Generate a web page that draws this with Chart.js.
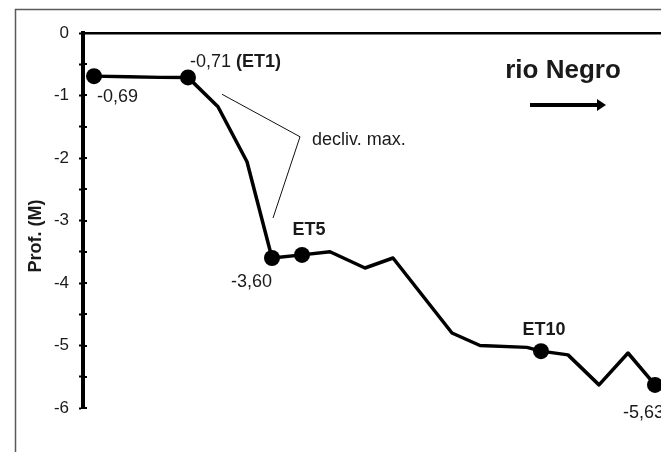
<!DOCTYPE html>
<html>
<head>
<meta charset="utf-8">
<script src="https://cdn.jsdelivr.net/npm/chart.js@4/dist/chart.umd.min.js"></script>
<style>
  html, body { margin: 0; padding: 0; background: #fff; overflow: hidden; }
  #wrap { width: 700px; height: 480px; }
</style>
</head>
<body>
<div id="wrap"><canvas id="perfil" width="700" height="480"></canvas></div>
<script>
// Longitudinal bed profile along the river (distance in km, depth in m)
const distKm = [1.1, 4.5, 7.7, 10.5, 13.5, 16.4, 18.9, 21.9, 24.7, 28.2, 31.0, 36.9, 39.7, 44.4, 45.8, 48.5, 51.6, 54.5, 57.2];
const depthM = [-0.69, -0.70, -0.71, -0.71, -1.18, -2.06, -3.60, -3.55, -3.50, -3.76, -3.60, -4.80, -5.00, -5.03, -5.09, -5.15, -5.63, -5.12, -5.63];

// indices of the surveyed stations (drawn with a marker)
const stationIdx = [0, 3, 6, 7, 14, 18];
// station names shown next to their markers
const stationNames = { 3: 'ET1', 7: 'ET5', 14: 'ET10' };
// stations whose depth is written on the chart
const depthLabelIdx = [0, 3, 6, 18];

// axis range and ticks
const depthMin = -6, depthMax = 0, depthStep = 0.5;
const distMin = 0, distMax = 60;

// "steepest slope" callout, river name and flow arrow (data coordinates)
const slopeCallout = [[13.9, -0.98], [21.7, -1.66], [19.0, -2.96]];
const slopeText = 'decliv. max.';
const riverName = 'rio Negro';
const flowArrow = [[44.7, -1.15], [52.3, -1.15]];

const FONT = '"Liberation Sans", Arial, Helvetica, sans-serif';
const fmt = v => v.toFixed(2).replace('.', ',');

const points = distKm.map((d, i) => ({ x: d, y: depthM[i] }));

const decorPlugin = {
  id: 'decor',
  beforeDraw(chart) {
    const ctx = chart.ctx;
    ctx.save();
    ctx.strokeStyle = '#5a5a5a';
    ctx.lineWidth = 1.5;
    ctx.strokeRect(15.5, 9.5, 900, 700);
    ctx.restore();
  },
  afterDraw(chart) {
    const ctx = chart.ctx;
    const xs = chart.scales.x, ys = chart.scales.y;
    const px = v => xs.getPixelForValue(v);
    const py = v => ys.getPixelForValue(v);
    ctx.save();

    // inner half of the depth ticks
    ctx.strokeStyle = '#000';
    ctx.lineWidth = 2;
    const ax = chart.chartArea.left;
    ys.ticks.forEach(t => {
      const y = Math.round(py(t.value));
      ctx.beginPath();
      ctx.moveTo(ax, y);
      ctx.lineTo(ax + 4, y);
      ctx.stroke();
    });

    // axis title
    ctx.fillStyle = '#1a1a1a';
    ctx.font = 'bold 18px ' + FONT;
    ctx.translate(36, 236);
    ctx.rotate(-Math.PI / 2);
    ctx.textAlign = 'center';
    ctx.textBaseline = 'middle';
    ctx.fillText('Prof. (M)', 0, 0);
    ctx.setTransform(1, 0, 0, 1, 0, 0);

    // slope callout
    ctx.strokeStyle = '#111';
    ctx.lineWidth = 1;
    ctx.beginPath();
    slopeCallout.forEach(([x, y], i) => {
      if (i === 0) ctx.moveTo(px(x), py(y)); else ctx.lineTo(px(x), py(y));
    });
    ctx.stroke();
    ctx.font = '18px ' + FONT;
    ctx.textAlign = 'left';
    ctx.textBaseline = 'middle';
    ctx.fillText(slopeText, px(slopeCallout[1][0]) + 12, py(slopeCallout[1][1]) + 3);

    // station labels
    const lab = (i) => ({ x: px(distKm[i]), y: py(depthM[i]) });
    depthLabelIdx.forEach(i => {
      const p = lab(i);
      const txt = fmt(depthM[i]);
      ctx.font = '18px ' + FONT;
      if (i === 0) {
        ctx.textAlign = 'left';
        ctx.fillText(txt, p.x + 3, p.y + 21);
      } else if (stationNames[i]) {
        ctx.textAlign = 'left';
        const first = txt + ' ';
        ctx.fillText(first, p.x + 2, p.y - 15);
        const w = ctx.measureText(first).width;
        ctx.font = 'bold 18px ' + FONT;
        ctx.fillText('(' + stationNames[i] + ')', p.x + 2 + w, p.y - 15);
      } else if (i === 6) {
        ctx.textAlign = 'right';
        ctx.fillText(txt, p.x, p.y + 24);
      } else {
        ctx.textAlign = 'left';
        ctx.fillText(txt, p.x - 32, p.y + 28);
      }
    });
    ctx.font = 'bold 18px ' + FONT;
    ctx.textAlign = 'center';
    Object.keys(stationNames).map(Number).forEach(i => {
      if (depthLabelIdx.includes(i)) return;
      const p = lab(i);
      const dx = i === 7 ? 7 : 3;
      const dy = i === 7 ? -25 : -21;
      ctx.fillText(stationNames[i], p.x + dx, p.y + dy);
    });

    // river name and flow direction
    const [a, b] = flowArrow;
    ctx.font = 'bold 26px ' + FONT;
    ctx.textAlign = 'center';
    ctx.fillText(riverName, (px(a[0]) + px(b[0])) / 2 - 5, py(a[1]) - 34);
    const x1 = px(a[0]), x2 = px(b[0]), y = Math.round(py(a[1]));
    ctx.strokeStyle = '#000';
    ctx.lineWidth = 4;
    ctx.beginPath();
    ctx.moveTo(x1, y);
    ctx.lineTo(x2 - 7, y);
    ctx.stroke();
    ctx.fillStyle = '#000';
    ctx.beginPath();
    ctx.moveTo(x2, y);
    ctx.lineTo(x2 - 9, y - 6);
    ctx.lineTo(x2 - 9, y + 6);
    ctx.closePath();
    ctx.fill();

    ctx.restore();
  }
};

new Chart(document.getElementById('perfil'), {
  type: 'line',
  data: {
    datasets: [{
      data: points,
      borderColor: '#000',
      borderWidth: 3.5,
      borderJoinStyle: 'round',
      tension: 0,
      fill: false,
      pointRadius: ctx => stationIdx.includes(ctx.dataIndex) ? 8 : 0,
      pointHoverRadius: ctx => stationIdx.includes(ctx.dataIndex) ? 8 : 0,
      pointBackgroundColor: '#000',
      pointBorderColor: '#000',
      pointBorderWidth: 0
    }]
  },
  options: {
    responsive: false,
    animation: false,
    events: [],
    layout: { padding: { left: 0, top: 33, right: 17, bottom: 72 } },
    plugins: { legend: { display: false }, tooltip: { enabled: false } },
    scales: {
      x: {
        type: 'linear',
        position: 'top',
        min: distMin,
        max: distMax,
        ticks: { display: false },
        grid: { drawOnChartArea: false, drawTicks: false },
        border: { display: true, color: '#000', width: 2.5 },
        afterFit: s => { s.height = 0; }
      },
      y: {
        type: 'linear',
        min: depthMin,
        max: depthMax,
        ticks: {
          stepSize: depthStep,
          padding: 10,
          color: '#1a1a1a',
          font: { family: FONT, size: 17 },
          callback: v => Number.isInteger(v) ? String(v) : ''
        },
        grid: { drawOnChartArea: false, drawTicks: true, tickLength: 4, tickWidth: 2, tickColor: '#000' },
        border: { display: true, color: '#000', width: 4 },
        afterFit: s => { s.width = 83; }
      }
    }
  },
  plugins: [decorPlugin]
});
</script>
</body>
</html>
